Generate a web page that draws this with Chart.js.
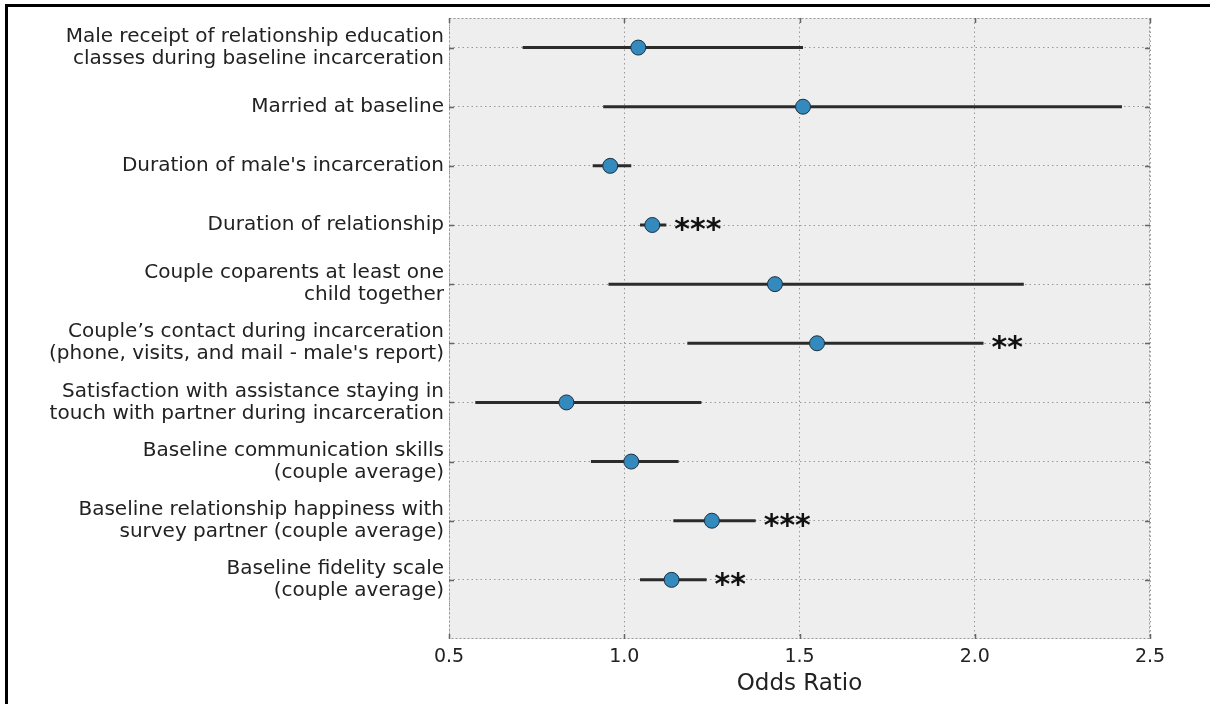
<!DOCTYPE html>
<html>
<head>
<meta charset="utf-8">
<script src="https://cdn.jsdelivr.net/npm/chart.js@4"></script>
<style>
  html, body { margin: 0; padding: 0; background: #fff; }
  #wrap { position: relative; width: 1210px; height: 704px; overflow: hidden; }
  #chart { display: block; }
  .frameTop { position: absolute; left: 5px; top: 4px; width: 1205px; height: 3px; background: #000; }
  .frameLeft { position: absolute; left: 5px; top: 4px; width: 3px; height: 700px; background: #000; }
</style>
</head>
<body>
<div id="wrap">
  <canvas id="chart" width="1210" height="704"></canvas>
  <div class="frameTop"></div>
  <div class="frameLeft"></div>
</div>
<script>
const categories = [
  ["Male receipt of relationship education", "classes during baseline incarceration"],
  "Married at baseline",
  "Duration of male's incarceration",
  "Duration of relationship",
  ["Couple coparents at least one", "child together"],
  ["Couple\u2019s contact during incarceration", "(phone, visits, and mail - male's report)"],
  ["Satisfaction with assistance staying in", "touch with partner during incarceration"],
  ["Baseline communication skills", "(couple average)"],
  ["Baseline relationship happiness with", "survey partner (couple average)"],
  ["Baseline fidelity scale", "(couple average)"]
];
const oddsRatio = [1.04, 1.51, 0.96, 1.08, 1.43, 1.55, 0.835, 1.02, 1.25, 1.135];
const ciLower   = [0.71, 0.94, 0.91, 1.045, 0.955, 1.18, 0.575, 0.905, 1.14, 1.045];
const ciUpper   = [1.51, 2.42, 1.02, 1.12, 2.14, 2.025, 1.22, 1.155, 1.375, 1.235];
const significance = ["", "", "", "***", "", "**", "", "", "***", "**"];
const xTicks = [0.5, 1.0, 1.5, 2.0, 2.5];

const pointData = oddsRatio.map((v, i) => ({ x: v, y: i }));
const ciDatasets = categories.map((c, i) => ({
  data: [{ x: ciLower[i], y: i }, { x: ciUpper[i], y: i }],
  showLine: true,
  borderColor: '#2b2b2b',
  borderWidth: 3,
  pointRadius: 0,
  pointHoverRadius: 0,
  borderCapStyle: 'butt'
}));

const decor = {
  id: 'decor',
  beforeDraw(chart) {
    const { ctx, chartArea: a } = chart;
    ctx.save();
    ctx.fillStyle = '#eeeeee';
    ctx.fillRect(a.left, a.top, a.right - a.left, a.bottom - a.top);
    ctx.restore();
  },
  afterDraw(chart) {
    const { ctx, chartArea: a, scales } = chart;
    const xs = scales.x, ys = scales.y;
    ctx.save();
    // frame
    ctx.strokeStyle = '#999';
    ctx.lineWidth = 1;
    ctx.setLineDash([2, 2]);
    ctx.strokeRect(a.left + 0.5, a.top + 0.5, a.right - a.left - 1, a.bottom - a.top - 1);
    ctx.setLineDash([]);
    // tick marks (inward)
    ctx.strokeStyle = '#666';
    ctx.lineWidth = 1.5;
    const L = 5;
    xTicks.forEach(v => {
      const px = Math.round(xs.getPixelForValue(v)) + 0.5;
      ctx.beginPath();
      ctx.moveTo(px, a.bottom); ctx.lineTo(px, a.bottom - L);
      ctx.moveTo(px, a.top); ctx.lineTo(px, a.top + L);
      ctx.stroke();
    });
    categories.forEach((c, i) => {
      const py = Math.round(ys.getPixelForValue(i)) + 0.5;
      ctx.beginPath();
      ctx.moveTo(a.left, py); ctx.lineTo(a.left + L, py);
      ctx.moveTo(a.right, py); ctx.lineTo(a.right - L, py);
      ctx.stroke();
    });
    // significance stars
    ctx.fillStyle = '#111';
    ctx.font = 'bold 30px "DejaVu Sans"';
    ctx.textAlign = 'left';
    ctx.textBaseline = 'alphabetic';
    significance.forEach((s, i) => {
      if (!s) return;
      const px = xs.getPixelForValue(ciUpper[i]) + 8;
      const py = ys.getPixelForValue(i) + 14;
      ctx.fillText(s, px, py);
    });
    ctx.restore();
  }
};

new Chart(document.getElementById('chart'), {
  type: 'scatter',
  data: {
    datasets: [
      {
        data: pointData,
        pointRadius: 7.5,
        pointHoverRadius: 7.5,
        pointBackgroundColor: '#348ABD',
        pointBorderColor: '#1c2f40',
        pointBorderWidth: 1,
        showLine: false
      },
      ...ciDatasets
    ]
  },
  options: {
    responsive: false,
    animation: false,
    events: [],
    layout: { padding: { top: 18, right: 60, left: 0, bottom: 0 } },
    plugins: { legend: { display: false }, tooltip: { enabled: false } },
    scales: {
      x: {
        type: 'linear',
        min: 0.5, max: 2.5,
        afterBuildTicks: (axis) => { axis.ticks = xTicks.map(v => ({ value: v })); },
        afterFit: (axis) => { axis.height = 65; axis.paddingLeft = 0; axis.paddingRight = 0; },
        grid: { color: '#999', lineWidth: 1, drawTicks: false },
        border: { display: false, dash: [1.5, 3] },
        ticks: {
          padding: 7,
          color: '#222',
          font: { family: '"DejaVu Sans"', size: 19 },
          callback: (v) => Number(v).toFixed(1),
          maxRotation: 0
        },
        title: {
          display: true,
          text: 'Odds Ratio',
          color: '#222',
          font: { family: '"DejaVu Sans"', size: 23 },
          padding: { top: 0, bottom: 6 }
        }
      },
      y: {
        type: 'linear',
        min: -0.5, max: 10,
        reverse: true,
        afterBuildTicks: (axis) => { axis.ticks = categories.map((c, i) => ({ value: i })); },
        afterFit: (axis) => { axis.width = 449; axis.paddingTop = 0; axis.paddingBottom = 0; },
        grid: { color: '#999', lineWidth: 1, drawTicks: false },
        border: { display: false, dash: [1.5, 3] },
        ticks: {
          autoSkip: false,
          padding: 5,
          color: '#222',
          font: { family: '"DejaVu Sans"', size: 20, lineHeight: '22px' },
          callback: (v) => categories[v]
        }
      }
    }
  },
  plugins: [decor]
});
</script>
</body>
</html>
